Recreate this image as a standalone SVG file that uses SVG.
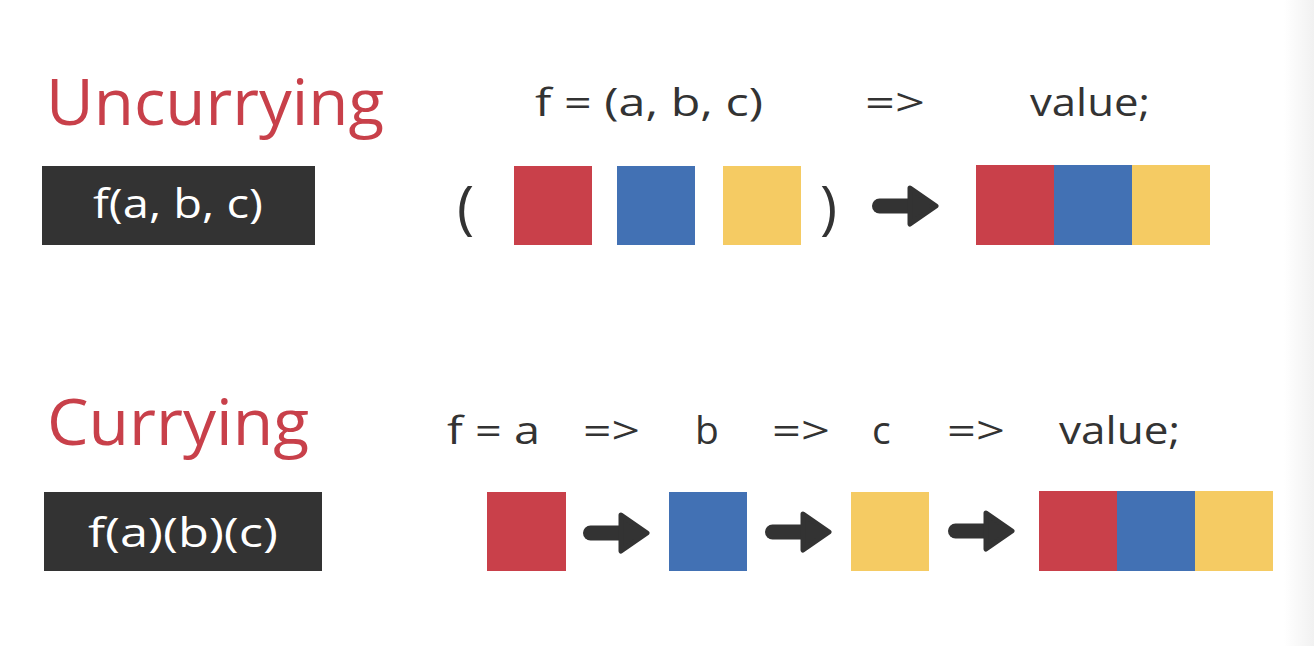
<svg xmlns="http://www.w3.org/2000/svg" width="1314" height="646" viewBox="0 0 1314 646">
<defs>
<linearGradient id="edge" x1="0" y1="0" x2="1" y2="0">
<stop offset="0" stop-color="#ffffff"/>
<stop offset="1" stop-color="#f1f1f1"/>
</linearGradient>
<g id="arrow">
<rect x="0" y="-7.5" width="44" height="15" rx="7.5" fill="#333333"/>
<polygon points="38,-18 64,0 38,18" fill="#333333" stroke="#333333" stroke-width="5" stroke-linejoin="round"/>
</g>
</defs>
<style>
.title{font-family:"Open Sans","Noto Sans",sans-serif;font-size:64px;fill:#C8404A}
.code{font-family:"Open Sans","Noto Sans",sans-serif;font-size:39px;fill:#333333}
.box{fill:#333333}
.boxtext{font-family:"Open Sans","Noto Sans",sans-serif;font-size:40px;fill:#ffffff}
.paren{font-family:"Open Sans","Noto Sans",sans-serif;font-size:58px;fill:#333333}
.r{fill:#C9404A}
.b{fill:#4271B4}
.y{fill:#F5CB63}
</style>
<rect x="0" y="0" width="1314" height="646" fill="#ffffff"/>
<rect x="1284" y="0" width="30" height="646" fill="url(#edge)"/>

<g id="uncurrying">
<text class="title" x="46" y="125" textLength="338" lengthAdjust="spacingAndGlyphs">Uncurrying</text>
<g id="box-uncurry">
<rect class="box" x="42" y="166" width="273" height="79"/>
<text class="boxtext" x="93" y="218" textLength="170" lengthAdjust="spacingAndGlyphs">f(a, b, c)</text>
</g>
<g id="formula-uncurry">
<text class="code" x="535" y="116" textLength="228" lengthAdjust="spacingAndGlyphs">f = (a, b, c)</text>
<text class="code" x="865" y="116" textLength="60" lengthAdjust="spacingAndGlyphs">=&gt;</text>
<text class="code" x="1030" y="116" textLength="120" lengthAdjust="spacingAndGlyphs">value;</text>
</g>
<g id="args-uncurry">
<text class="paren" x="457" y="228">(</text>
<rect class="r" x="514" y="166" width="78" height="79"/>
<rect class="b" x="617" y="166" width="78" height="79"/>
<rect class="y" x="723" y="166" width="78" height="79"/>
<text class="paren" x="820" y="228">)</text>
</g>
<g id="result-uncurry">
<rect class="r" x="976" y="165" width="78" height="80"/>
<rect class="b" x="1054" y="165" width="78" height="80"/>
<rect class="y" x="1132" y="165" width="78" height="80"/>
</g>
</g>

<g id="currying">
<text class="title" x="47" y="445" textLength="262" lengthAdjust="spacingAndGlyphs">Currying</text>
<g id="box-curry">
<rect class="box" x="44" y="492" width="278" height="79"/>
<text class="boxtext" x="88" y="547" textLength="190" lengthAdjust="spacingAndGlyphs">f(a)(b)(c)</text>
</g>
<g id="formula-curry">
<text class="code" x="447" y="444" textLength="93" lengthAdjust="spacingAndGlyphs">f = a</text>
<text class="code" x="583" y="444" textLength="57" lengthAdjust="spacingAndGlyphs">=&gt;</text>
<text class="code" x="695" y="444">b</text>
<text class="code" x="772" y="444" textLength="58" lengthAdjust="spacingAndGlyphs">=&gt;</text>
<text class="code" x="872" y="444">c</text>
<text class="code" x="947" y="444" textLength="58" lengthAdjust="spacingAndGlyphs">=&gt;</text>
<text class="code" x="1059" y="444" textLength="121" lengthAdjust="spacingAndGlyphs">value;</text>
</g>
<g id="node-a"><rect class="r" x="487" y="492" width="79" height="79"/></g>
<g id="node-b"><rect class="b" x="669" y="492" width="78" height="79"/></g>
<g id="node-c"><rect class="y" x="851" y="492" width="78" height="79"/></g>
<g id="result-curry">
<rect class="r" x="1039" y="491" width="78" height="80"/>
<rect class="b" x="1117" y="491" width="78" height="80"/>
<rect class="y" x="1195" y="491" width="78" height="80"/>
</g>
</g>

<g id="connectors">
<use href="#arrow" x="872" y="206"/>
<use href="#arrow" x="583" y="533"/>
<use href="#arrow" x="765" y="532"/>
<use href="#arrow" x="948" y="531"/>
</g>
</svg>
